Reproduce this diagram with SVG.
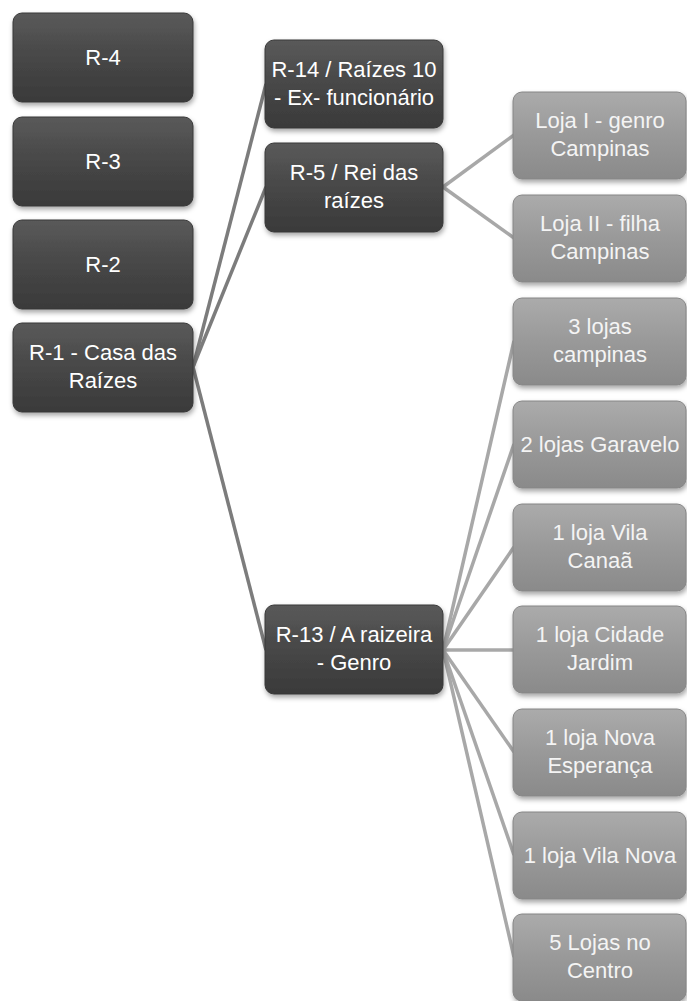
<svg xmlns="http://www.w3.org/2000/svg" width="687" height="1001" viewBox="0 0 687 1001">
<defs>
<linearGradient id="gDark" x1="0" y1="0" x2="0" y2="1">
<stop offset="0" stop-color="#5a5a5a"/>
<stop offset="0.5" stop-color="#474747"/>
<stop offset="1" stop-color="#3a3a3a"/>
</linearGradient>
<linearGradient id="gLight" x1="0" y1="0" x2="0" y2="1">
<stop offset="0" stop-color="#ababab"/>
<stop offset="0.5" stop-color="#999999"/>
<stop offset="1" stop-color="#8a8a8a"/>
</linearGradient>
<filter id="sh" x="-10%" y="-10%" width="125%" height="130%">
<feDropShadow dx="1" dy="3" stdDeviation="2.5" flood-color="#000" flood-opacity="0.35"/>
</filter>
</defs>
<style>
.dk{fill:url(#gDark);stroke:#383838;stroke-width:1;filter:url(#sh)}
.lt{fill:url(#gLight);stroke:#868686;stroke-width:1;filter:url(#sh)}
.t{font-family:"Liberation Sans",Arial,sans-serif;font-size:22px;text-anchor:middle;fill:#ffffff}
.tl{font-family:"Liberation Sans",Arial,sans-serif;font-size:22px;text-anchor:middle;fill:#f4f4f4}
.c1{stroke:#7c7c7c;stroke-width:3.5;fill:none}
.c2{stroke:#a8a8a8;stroke-width:3.5;fill:none}
</style>
<rect width="687" height="1001" fill="#ffffff"/>
<g id="connectors">
<line class="c1" x1="193" y1="367" x2="266" y2="84"/>
<line class="c1" x1="193" y1="367" x2="266" y2="187"/>
<line class="c1" x1="193" y1="367" x2="266" y2="650"/>
<line class="c2" x1="443" y1="187" x2="514" y2="135"/>
<line class="c2" x1="443" y1="187" x2="514" y2="238"/>
<line class="c2" x1="443" y1="650" x2="514" y2="341"/>
<line class="c2" x1="443" y1="650" x2="514" y2="444"/>
<line class="c2" x1="443" y1="650" x2="514" y2="547"/>
<line class="c2" x1="443" y1="650" x2="514" y2="650"/>
<line class="c2" x1="443" y1="650" x2="514" y2="752"/>
<line class="c2" x1="443" y1="650" x2="514" y2="855"/>
<line class="c2" x1="443" y1="650" x2="514" y2="957"/>
</g>
<g id="r4"><rect class="dk" x="13" y="13" width="180" height="89" rx="9"/><text class="t" x="103" y="65">R-4</text></g>
<g id="r3"><rect class="dk" x="13" y="117" width="180" height="89" rx="9"/><text class="t" x="103" y="169">R-3</text></g>
<g id="r2"><rect class="dk" x="13" y="220" width="180" height="89" rx="9"/><text class="t" x="103" y="272">R-2</text></g>
<g id="r1"><rect class="dk" x="13" y="323" width="180" height="89" rx="9"/><text class="t" x="103" y="360">R-1 - Casa das</text><text class="t" x="103" y="388">Raízes</text></g>
<g id="r14"><rect class="dk" x="265" y="40" width="178" height="88" rx="9"/><text class="t" x="354" y="77">R-14 / Raízes 10</text><text class="t" x="354" y="105">- Ex- funcionário</text></g>
<g id="r5"><rect class="dk" x="265" y="143" width="178" height="89" rx="9"/><text class="t" x="354" y="180">R-5 / Rei das</text><text class="t" x="354" y="208">raízes</text></g>
<g id="r13"><rect class="dk" x="265" y="605" width="178" height="89" rx="9"/><text class="t" x="354" y="642">R-13 / A raizeira</text><text class="t" x="354" y="670">- Genro</text></g>
<g id="loja1"><rect class="lt" x="513" y="92" width="173" height="87" rx="9"/><text class="tl" x="600" y="128">Loja I - genro</text><text class="tl" x="600" y="156">Campinas</text></g>
<g id="loja2"><rect class="lt" x="513" y="195" width="173" height="87" rx="9"/><text class="tl" x="600" y="231">Loja II - filha</text><text class="tl" x="600" y="259">Campinas</text></g>
<g id="campinas3"><rect class="lt" x="513" y="298" width="173" height="87" rx="9"/><text class="tl" x="600" y="334">3 lojas</text><text class="tl" x="600" y="362">campinas</text></g>
<g id="garavelo"><rect class="lt" x="513" y="401" width="173" height="87" rx="9"/><text class="tl" x="600" y="452">2 lojas Garavelo</text></g>
<g id="vilacanaa"><rect class="lt" x="513" y="504" width="173" height="87" rx="9"/><text class="tl" x="600" y="540">1 loja Vila</text><text class="tl" x="600" y="568">Canaã</text></g>
<g id="cidadejardim"><rect class="lt" x="513" y="606" width="173" height="87" rx="9"/><text class="tl" x="600" y="642">1 loja Cidade</text><text class="tl" x="600" y="670">Jardim</text></g>
<g id="novaesperanca"><rect class="lt" x="513" y="709" width="173" height="87" rx="9"/><text class="tl" x="600" y="745">1 loja Nova</text><text class="tl" x="600" y="773">Esperança</text></g>
<g id="vilanova"><rect class="lt" x="513" y="812" width="173" height="87" rx="9"/><text class="tl" x="600" y="863">1 loja Vila Nova</text></g>
<g id="centro"><rect class="lt" x="513" y="914" width="173" height="87" rx="9"/><text class="tl" x="600" y="950">5 Lojas no</text><text class="tl" x="600" y="978">Centro</text></g>
</svg>
